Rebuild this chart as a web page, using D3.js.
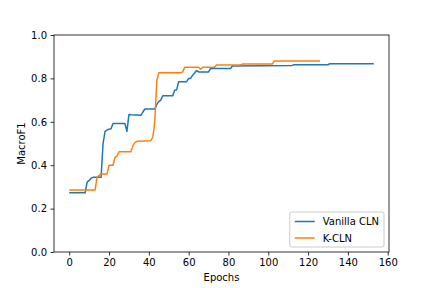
<!DOCTYPE html>
<html>
<head>
<meta charset="utf-8">
<script src="https://cdn.jsdelivr.net/npm/d3@7"></script>
<style>
body { margin: 0; background: #fff; }
svg { font-family: "DejaVu Sans", sans-serif; }
.axis text { font-size: 10px; fill: #000; }
.axis path, .axis line { stroke: #000; stroke-width: 0.8; }
</style>
</head>
<body>
<svg id="chart"></svg>
<script>
"use strict";

var svg_width = 432;
var svg_height = 288;

// series: epochs and macro F1
var vanilla_epochs = [0, 8, 9, 10, 11, 12, 16, 17, 18, 19, 20, 21, 22, 28, 29, 30, 31, 36, 37, 38, 43, 44, 45, 46, 47, 52, 53, 54, 55, 59, 60, 61, 62, 63, 64, 65, 70, 71, 81, 82, 112, 113, 130, 131, 153];
var vanilla_f1 = [0.273, 0.273, 0.322, 0.33, 0.34, 0.344, 0.344, 0.5, 0.556, 0.562, 0.566, 0.568, 0.592, 0.592, 0.556, 0.634, 0.632, 0.63, 0.645, 0.659, 0.659, 0.68, 0.693, 0.70, 0.72, 0.72, 0.745, 0.748, 0.785, 0.785, 0.80, 0.80, 0.815, 0.825, 0.836, 0.83, 0.83, 0.846, 0.846, 0.857, 0.86, 0.863, 0.863, 0.868, 0.868];

var kcln_epochs = [0, 13, 14, 16, 19, 20, 22, 23, 24, 25, 31, 32, 33, 34, 41, 42, 43, 44, 45, 56, 57, 58, 65, 66, 67, 73, 74, 86, 87, 102, 103, 126];
var kcln_f1 = [0.286, 0.286, 0.345, 0.36, 0.36, 0.40, 0.40, 0.436, 0.442, 0.462, 0.462, 0.49, 0.504, 0.51, 0.513, 0.53, 0.6, 0.79, 0.826, 0.826, 0.83, 0.851, 0.851, 0.842, 0.851, 0.851, 0.862, 0.862, 0.866, 0.866, 0.88, 0.88];

var series_names = ["Vanilla CLN", "K-CLN"];
var series_colors = ["#1f77b4", "#ff7f0e"];
var x_ticks = [0, 20, 40, 60, 80, 100, 120, 140, 160];
var y_ticks = [0.0, 0.2, 0.4, 0.6, 0.8, 1.0];

var plot_left = 54, plot_right = 389, plot_top = 35, plot_bottom = 252;

var series = [
    d3.zip(vanilla_epochs, vanilla_f1),
    d3.zip(kcln_epochs, kcln_f1)
];

var svg = d3.select("#chart")
    .attr("width", svg_width)
    .attr("height", svg_height);

// matplotlib style 5% margin on x
var xmax = 153;
var xScale = d3.scaleLinear()
    .domain([-0.05 * xmax, xmax * 1.05])
    .range([plot_left, plot_right]);
var yScale = d3.scaleLinear()
    .domain([0, 1])
    .range([plot_bottom, plot_top]);

var line = d3.line()
    .x(function(d) {return xScale(d[0]);})
    .y(function(d) {return yScale(d[1]);});

svg.selectAll(".line")
    .data(series)
    .enter()
    .append("path")
    .attr("class", "line")
    .attr("fill", "none")
    .attr("stroke", function(d, i) {return series_colors[i];})
    .attr("stroke-width", 1.5)
    .attr("stroke-linejoin", "round")
    .attr("d", line);

// frame
svg.append("rect")
    .attr("x", plot_left)
    .attr("y", plot_top)
    .attr("width", plot_right - plot_left)
    .attr("height", plot_bottom - plot_top)
    .attr("fill", "none")
    .attr("stroke", "#000")
    .attr("stroke-width", 0.8);

svg.append("g")
    .attr("class", "axis axis--x")
    .attr("transform", "translate(0," + plot_bottom + ")")
    .call(d3.axisBottom(xScale).tickValues(x_ticks).tickSize(3.5).tickPadding(3.5).tickFormat(d3.format("d")))
    .call(function(g) {g.select(".domain").remove();});

svg.append("g")
    .attr("class", "axis axis--y")
    .attr("transform", "translate(" + plot_left + ",0)")
    .call(d3.axisLeft(yScale).tickValues(y_ticks).tickSize(3.5).tickPadding(3.5).tickFormat(d3.format(".1f")))
    .call(function(g) {g.select(".domain").remove();});

svg.selectAll(".axis text").attr("font-family", "DejaVu Sans").attr("font-size", 10);

svg.append("text")
    .attr("x", (plot_left + plot_right) / 2)
    .attr("y", 281)
    .attr("text-anchor", "middle")
    .attr("font-size", 10)
    .text("Epochs");

svg.append("text")
    .attr("text-anchor", "middle")
    .attr("transform", "translate(25," + ((plot_top + plot_bottom) / 2) + ") rotate(-90)")
    .attr("font-size", 10)
    .text("MacroF1");

// legend, lower right
var legend = svg.append("g").attr("class", "legend");
var box = legend.append("rect")
    .attr("rx", 2)
    .attr("fill", "#fff")
    .attr("fill-opacity", 0.8)
    .attr("stroke", "#ccc")
    .attr("stroke-width", 1);

var rows = legend.selectAll(".row")
    .data(series_names)
    .enter()
    .append("g")
    .attr("class", "row")
    .attr("transform", function(d, i) {return "translate(0," + (i * 16.5) + ")";});
rows.append("line")
    .attr("x1", 0).attr("x2", 20)
    .attr("y1", 0).attr("y2", 0)
    .attr("stroke", function(d, i) {return series_colors[i];})
    .attr("stroke-width", 1.5);
rows.append("text")
    .attr("x", 28)
    .attr("y", 3.6)
    .attr("font-size", 10)
    .text(function(d) {return d;});

var bb = legend.node().getBBox();
var boxW = bb.width + 10, boxH = 35;
box.attr("x", -5).attr("y", -9.5).attr("width", boxW).attr("height", boxH);
legend.attr("transform", "translate(" + (plot_right - 5 - boxW + 5) + "," + (plot_bottom - 5 - boxH + 9.5) + ")");
</script>
</body>
</html>
